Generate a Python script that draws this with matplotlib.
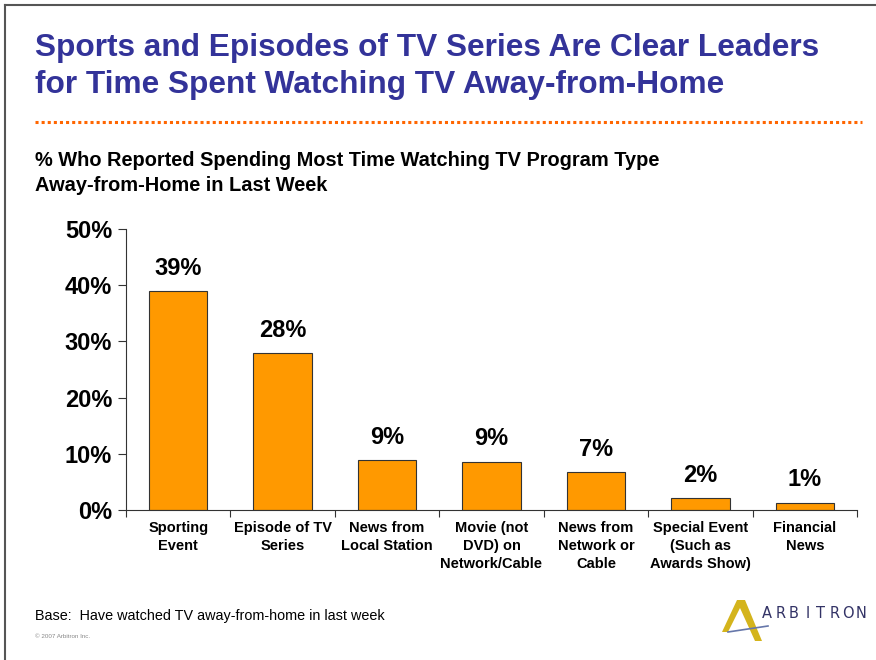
import matplotlib.pyplot as plt
from matplotlib.lines import Line2D
from matplotlib.patches import Polygon

categories = ["Sporting\nEvent", "Episode of TV\nSeries", "News from\nLocal Station",
              "Movie (not\nDVD) on\nNetwork/Cable", "News from\nNetwork or\nCable",
              "Special Event\n(Such as\nAwards Show)", "Financial\nNews"]
values = [39, 27.9, 8.9, 8.6, 6.7, 2.1, 1.3]
labels = ["39%", "28%", "9%", "9%", "7%", "2%", "1%"]
yticks = [0, 10, 20, 30, 40, 50]

plt.rcParams['font.family'] = ['Liberation Sans', 'DejaVu Sans']

fig = plt.figure(figsize=(8.76, 6.6), dpi=100)
W, H = 876, 660

# slide frame
fig.add_artist(Line2D([5 / W, 1], [1 - 5 / H, 1 - 5 / H], color='#555555', lw=1.5))
fig.add_artist(Line2D([5 / W, 5 / W], [0, 1 - 5 / H], color='#555555', lw=1.5))

fig.text(35 / W, 1 - 48 / H, "Sports and Episodes of TV Series Are Clear Leaders",
         color='#333399', fontsize=22.8, fontweight='bold', va='center')
fig.text(35 / W, 1 - 85 / H, "for Time Spent Watching TV Away-from-Home",
         color='#333399', fontsize=22.8, fontweight='bold', va='center')
fig.add_artist(Line2D([35 / W, 862 / W], [1 - 122 / H, 1 - 122 / H], color='#FF6600',
                      lw=2.2, linestyle=(0, (1, 1))))

fig.text(35 / W, 1 - 161 / H, "% Who Reported Spending Most Time Watching TV Program Type",
         fontsize=14.4, fontweight='bold', va='center')
fig.text(35 / W, 1 - 186 / H, "Away-from-Home in Last Week",
         fontsize=14.4, fontweight='bold', va='center')

ax = fig.add_axes([126 / W, 1 - 510 / H, (857 - 126) / W, (510 - 229) / H])
x = range(len(categories))
ax.bar(x, values, width=0.56, color='#FF9900', edgecolor='#333333', linewidth=0.8)
for i, (v, t) in enumerate(zip(values, labels)):
    ax.text(i, v + 2.0, t, ha='center', va='bottom', fontsize=17, fontweight='bold')

ax.set_xlim(-0.5, len(categories) - 0.5)
ax.set_ylim(0, 50)
ax.set_yticks(yticks)
ax.set_yticklabels([f"{t}%" for t in yticks], fontsize=17, fontweight='bold')
ax.set_xticks([i - 0.5 for i in range(len(categories) + 1)])
ax.set_xticklabels([])
ax.set_xticks(list(x), minor=True)
ax.set_xticklabels(categories, minor=True, fontsize=10.5, fontweight='bold', linespacing=1.35)
ax.tick_params(axis='x', which='minor', length=0, pad=8)
ax.tick_params(axis='x', which='major', length=5, color='#333333')
ax.tick_params(axis='y', length=6, color='#333333', pad=4)
for s in ['top', 'right']:
    ax.spines[s].set_visible(False)
for s in ['left', 'bottom']:
    ax.spines[s].set_color('#333333')

fig.text(35 / W, 1 - 616 / H, "Base:  Have watched TV away-from-home in last week",
         fontsize=10.4, va='center')
fig.text(35 / W, 1 - 637 / H, "\u00a9 2007 Arbitron Inc.", fontsize=4.5, color='#888888', va='center')

# logo
fig.add_artist(Polygon([(722 / W, 1 - 632 / H), (737 / W, 1 - 600 / H), (745 / W, 1 - 600 / H),
                        (762 / W, 1 - 641 / H), (755 / W, 1 - 641 / H), (740 / W, 1 - 608 / H),
                        (728 / W, 1 - 632 / H)], closed=True, color='#D4B41C', lw=0))
fig.add_artist(Line2D([728 / W, 768 / W], [1 - 632 / H, 1 - 626 / H], color='#6677AA', lw=1.2))
for k, ch in enumerate("ARBITRON"):
    fig.text((767 + k * 13.5) / W, 1 - 614 / H, ch, fontsize=10.5, color='#333366',
             va='center', ha='center', fontfamily='DejaVu Sans')

fig.savefig("out.png", dpi=100)
